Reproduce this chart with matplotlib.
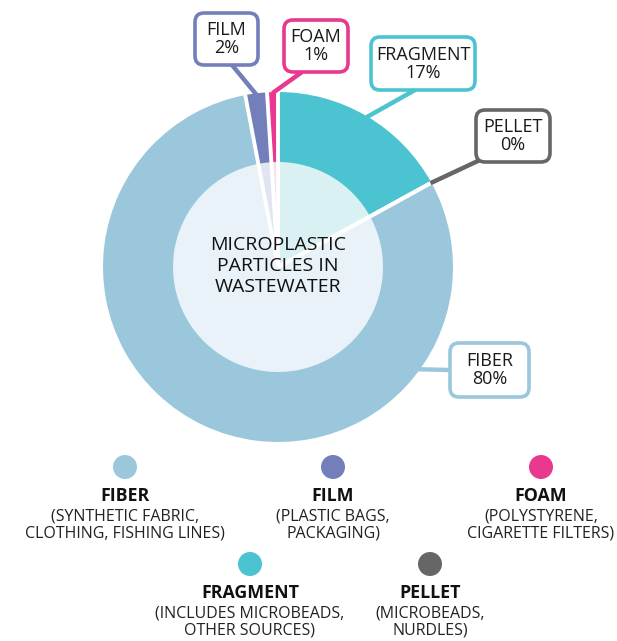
import numpy as np
import matplotlib
matplotlib.use("Agg")
import matplotlib.pyplot as plt
from matplotlib.patches import FancyBboxPatch, Circle

plt.rcParams['font.family'] = ['Open Sans', 'DejaVu Sans']

# ---- data ----
categories = ["FRAGMENT", "PELLET", "FIBER", "FILM", "FOAM"]
values = [17, 0, 80, 2, 1]
colors = ["#4cc3d0", "#666666", "#9bc7dc", "#737fbb", "#e8398f"]
inner_colors = ["#daf1f3", "#e6e6e6", "#e8f2f8", "#e1e4f1", "#fbe0ec"]
pct_labels = ["17%", "0%", "80%", "2%", "1%"]
legend_order = ["FIBER", "FILM", "FOAM", "FRAGMENT", "PELLET"]
legend_desc = {
    "FIBER": "(SYNTHETIC FABRIC,\nCLOTHING, FISHING LINES)",
    "FILM": "(PLASTIC BAGS,\nPACKAGING)",
    "FOAM": "(POLYSTYRENE,\nCIGARETTE FILTERS)",
    "FRAGMENT": "(INCLUDES MICROBEADS,\nOTHER SOURCES)",
    "PELLET": "(MICROBEADS,\nNURDLES)",
}
center_title = "MICROPLASTIC\nPARTICLES IN\nWASTEWATER"

W, H = 617, 641
fig = plt.figure(figsize=(W / 100, H / 100), dpi=100)
ax = fig.add_axes([0, 0, 1, 1])
ax.set_xlim(0, W)
ax.set_ylim(0, H)
ax.set_aspect('equal')
ax.axis('off')

def Y(y):
    return H - y

cx, cy = 278, Y(267)
R_out, R_in = 175, 105

wedges, _ = ax.pie(values, colors=colors, startangle=90, counterclock=False,
                   radius=R_out, center=(cx, cy),
                   wedgeprops=dict(edgecolor='none', linewidth=0))
ax.pie(values, colors=inner_colors, startangle=90, counterclock=False,
       radius=R_in, center=(cx, cy),
       wedgeprops=dict(edgecolor='none', linewidth=0))
ax.set_xlim(0, W)
ax.set_ylim(0, H)

# white radial separators at wedge boundaries
for w in wedges:
    a = np.radians(w.theta1)
    ax.plot([cx, cx + (R_out + 1) * np.cos(a)], [cy, cy + (R_out + 1) * np.sin(a)],
            color='white', lw=2.8, solid_capstyle='butt', zorder=2)

ax.text(cx, cy + 1, center_title, ha='center', va='center', fontsize=14,
        color='#111111', linespacing=1.25, zorder=3)

# callouts: box (x0, y0, x1, y1 in image px), leader start (image px)
callouts = {
    "FILM": dict(box=(195, 13, 258, 65), start=(232, 65)),
    "FOAM": dict(box=(284, 20, 348, 72), start=(302, 72)),
    "FRAGMENT": dict(box=(371, 37, 475, 90), start=(415, 90)),
    "PELLET": dict(box=(476, 110, 550, 162), start=(480, 160)),
    "FIBER": dict(box=(450, 343, 529, 397), start=(450, 370)),
}
fiber_anchor_angle = -36

for i, (cat, w) in enumerate(zip(categories, wedges)):
    c = callouts[cat]
    x0, y0, x1, y1 = c["box"]
    if cat == "FIBER":
        ang = fiber_anchor_angle
    elif values[i] == 0:
        ang = w.theta1
    else:
        ang = 0.5 * (w.theta1 + w.theta2)
    ex = cx + (R_out - 1) * np.cos(np.radians(ang))
    ey = cy + (R_out - 1) * np.sin(np.radians(ang))
    sx, sy = c["start"]
    ax.plot([sx, ex], [Y(sy), ey], color=colors[i], lw=3.2,
            solid_capstyle='butt', zorder=3)
    box = FancyBboxPatch((x0 + 8, Y(y1) + 8), (x1 - x0) - 16, (y1 - y0) - 16,
                         boxstyle="round,pad=8,rounding_size=9",
                         facecolor='white', edgecolor=colors[i], lw=2.6, zorder=4)
    ax.add_patch(box)
    ax.text((x0 + x1) / 2, Y((y0 + y1) / 2), f"{cat}\n{pct_labels[i]}",
            ha='center', va='center', fontsize=13, color='#1a1a1a',
            linespacing=1.0, zorder=5)

# legend
legend_pos = {
    "FIBER": (125, 467),
    "FILM": (333, 467),
    "FOAM": (541, 467),
    "FRAGMENT": (250, 564),
    "PELLET": (430, 564),
}
for cat in legend_order:
    i = categories.index(cat)
    lx, ly = legend_pos[cat]
    ax.add_patch(Circle((lx, Y(ly)), 12, facecolor=colors[i], edgecolor='none'))
    ax.text(lx, Y(ly + 29), cat, ha='center', va='center', fontsize=12.8,
            fontweight='bold', color='#111111')
    ax.text(lx, Y(ly + 58), legend_desc[cat], ha='center', va='center',
            fontsize=11.5, color='#222222', linespacing=1.08)

fig.savefig("out.png", dpi=100)
